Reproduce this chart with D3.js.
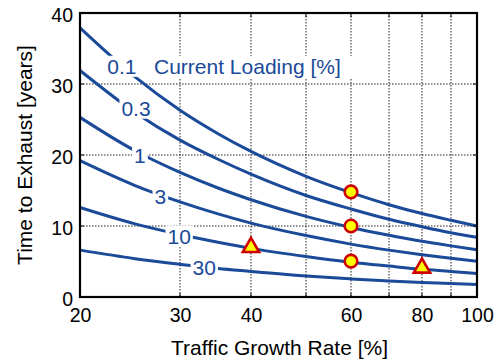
<!DOCTYPE html>
<html>
<head>
<meta charset="utf-8">
<script src="https://cdn.jsdelivr.net/npm/d3@7/dist/d3.min.js"></script>
<style>
html,body{margin:0;padding:0;background:#fff;}
svg{display:block;font-family:"Liberation Sans",Arial,sans-serif;}
</style>
</head>
<body>
<svg id="chart" width="500" height="362"></svg>
<script>
// Traffic growth rates sampled along the curves [%]
const rates = [20, 25, 30, 35, 40, 50, 60, 70, 80, 90, 100];
// Current loading categories [%]
const loadings = ["0.1", "0.3", "1", "3", "10", "30"];
// Time to exhaust [years] per loading, read at the rates above
const t01 = [37.9, 31.0, 26.3, 23.0, 20.5, 17.0, 14.7, 13.0, 11.75, 10.8, 10.0];
const t03 = [31.9, 26.0, 22.1, 19.4, 17.3, 14.3, 12.4, 10.95, 9.9, 9.05, 8.4];
const t1  = [25.3, 20.6, 17.55, 15.35, 13.7, 11.35, 9.8, 8.7, 7.85, 7.2, 6.65];
const t3  = [19.2, 15.7, 13.4, 11.7, 10.4, 8.65, 7.45, 6.6, 5.95, 5.45, 5.05];
const t10 = [12.6, 10.3, 8.8, 7.7, 6.85, 5.7, 4.9, 4.35, 3.9, 3.6, 3.3];
const t30 = [6.6, 5.4, 4.6, 4.0, 3.6, 2.95, 2.55, 2.25, 2.05, 1.9, 1.75];
const seriesValues = [t01, t03, t1, t3, t10, t30];
// Curve label anchor points (rate, years)
const labelRates = [23.7, 25.1, 25.5, 27.7, 29.9, 33.1];
const labelYears = [32.5, 26.6, 19.9, 14.1, 8.6, 4.2];
// Markers
const circleRates = [60, 60, 60];
const circleYears = [14.8, 10.0, 5.05];
const triRates = [40, 80];
const triYears = [7.0, 4.1];
// Axis ticks
const xTicks = [20, 30, 40, 60, 80, 100];
const xGrid = [30, 40, 50, 60, 70, 80, 90];
const yTicks = [0, 10, 20, 30, 40];
const yGrid = [10, 20, 30];
const legendTitle = "Current Loading [%]";
const xTitle = "Traffic Growth Rate [%]";
const yTitle = "Time to Exhaust [years]";

const blue = "#1a4a98";
const svg = d3.select("#chart");
const L = 80, R = 477, T = 13, B = 297;
const x = d3.scaleLog().domain([20, 100]).range([L, R]);
const y = d3.scaleLinear().domain([0, 40]).range([B, T]);

// grid
const g = svg.append("g");
g.selectAll(".vg").data(xGrid).enter().append("line")
  .attr("x1", d => x(d)).attr("x2", d => x(d)).attr("y1", T).attr("y2", B)
  .attr("stroke", "#222").attr("stroke-width", 1).attr("stroke-dasharray", "1.5,1.5");
g.selectAll(".hg").data(yGrid).enter().append("line")
  .attr("y1", d => y(d)).attr("y2", d => y(d)).attr("x1", L).attr("x2", R)
  .attr("stroke", "#222").attr("stroke-width", 1).attr("stroke-dasharray", "1.5,1.5");

// curves
const line = d3.line().x(d => x(d[0])).y(d => y(d[1])).curve(d3.curveMonotoneX);
seriesValues.forEach(vals => {
  svg.append("path").datum(rates.map((r, i) => [r, vals[i]]))
    .attr("d", line).attr("fill", "none").attr("stroke", blue).attr("stroke-width", 3);
});

// labels with white backgrounds
function boxedText(tx, ty, txt, anchor, padX, padY) {
  const gg = svg.append("g");
  const rect = gg.append("rect").attr("fill", "#fff");
  const t = gg.append("text").attr("x", tx).attr("y", ty).attr("dy", "0.36em")
    .attr("text-anchor", anchor).attr("font-size", 21).attr("fill", blue).text(txt);
  const bb = t.node().getBBox();
  rect.attr("x", bb.x - padX).attr("y", bb.y - padY + 1)
    .attr("width", bb.width + 2 * padX).attr("height", bb.height + 2 * padY - 2);
  return gg;
}
loadings.forEach((lab, i) => {
  boxedText(x(labelRates[i]), y(labelYears[i]), lab, "middle", 2, 0);
});
{
  const gg = svg.append("g");
  const t = gg.append("text").attr("x", 154).attr("y", y(labelYears[0])).attr("dy", "0.36em")
    .attr("font-size", 21).attr("fill", blue).text(legendTitle);
  const bb = t.node().getBBox();
  gg.insert("rect", "text").attr("fill", "#fff").attr("x", bb.x - 4).attr("y", bb.y + 1)
    .attr("width", bb.width + 20).attr("height", bb.height);
}

// markers
svg.selectAll(".circ").data(circleRates.map((r, i) => [r, circleYears[i]])).enter()
  .append("circle").attr("cx", d => x(d[0])).attr("cy", d => y(d[1])).attr("r", 6.3)
  .attr("fill", "#ffff00").attr("stroke", "#cc0000").attr("stroke-width", 2.6);
svg.selectAll(".tri").data(triRates.map((r, i) => [r, triYears[i]])).enter()
  .append("path").attr("d", d3.symbol().type(d3.symbolTriangle).size(115))
  .attr("transform", d => `translate(${x(d[0])},${y(d[1])})`)
  .attr("fill", "#ffff00").attr("stroke", "#cc0000").attr("stroke-width", 2.6).attr("stroke-linejoin", "miter");

// inward ticks on frame
const tk = svg.append("g").attr("stroke", "#000").attr("stroke-width", 1);
xGrid.forEach(v => {
  tk.append("line").attr("x1", x(v)).attr("x2", x(v)).attr("y1", B).attr("y2", B - 4);
  tk.append("line").attr("x1", x(v)).attr("x2", x(v)).attr("y1", T).attr("y2", T + 4);
});
yGrid.forEach(v => {
  tk.append("line").attr("y1", y(v)).attr("y2", y(v)).attr("x1", L).attr("x2", L + 4);
  tk.append("line").attr("y1", y(v)).attr("y2", y(v)).attr("x1", R).attr("x2", R - 4);
});

// frame
svg.append("rect").attr("x", L).attr("y", T).attr("width", R - L).attr("height", B - T)
  .attr("fill", "none").attr("stroke", "#000").attr("stroke-width", 2.2);

// axes labels
const xAxis = svg.append("g").attr("transform", `translate(0,${B})`)
  .call(d3.axisBottom(x).tickValues(xTicks).tickFormat(d3.format("d")).tickSize(0).tickPadding(11));
const yAxis = svg.append("g").attr("transform", `translate(${L},0)`)
  .call(d3.axisLeft(y).tickValues(yTicks).tickSize(0).tickPadding(7));
[xAxis, yAxis].forEach(a => {
  a.select(".domain").remove();
  a.selectAll("text").attr("font-size", 19.5).attr("fill", "#000")
    .attr("font-family", "'Liberation Sans',Arial,sans-serif");
});
yAxis.selectAll("text").attr("dy", "0.45em");

svg.append("text").attr("x", (L + R) / 2 + 1).attr("y", 355).attr("text-anchor", "middle")
  .attr("font-size", 21).attr("fill", "#000").text(xTitle);
svg.append("text").attr("transform", "translate(32,155) rotate(-90)").attr("text-anchor", "middle")
  .attr("font-size", 21).attr("fill", "#000").text(yTitle);
</script>
</body>
</html>
